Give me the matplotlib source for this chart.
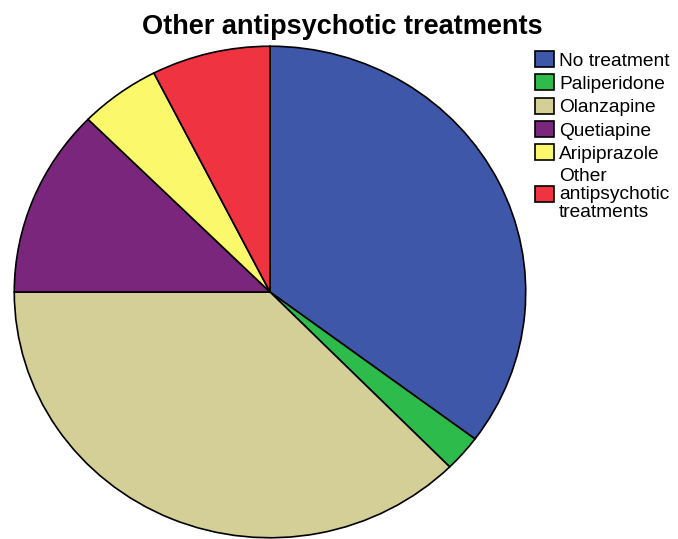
import matplotlib.pyplot as plt

# dane (procenty)
labels = ["No treatment", "Paliperidone", "Olanzapine", "Quetiapine",
          "Aripiprazole", "Other\nantipsychotic\ntreatments"]
shares = [35.2, 2.4, 37.4, 12.4, 5.1, 7.5]
colors = ["#3F57A8", "#2DBB4C", "#D4CF96", "#7B267D", "#FBF86B", "#EF3340"]

plt.rcParams['font.family'] = ['Liberation Sans', 'DejaVu Sans']

W, H = 678, 539
fig = plt.figure(figsize=(W / 100, H / 100), dpi=100)

# pie is slightly squashed in the original, so axes aspect stays auto
cx, cy, rx, ry = 270, 292, 257, 247
ax = fig.add_axes([(cx - rx) / W, 1 - (cy + ry) / H, 2 * rx / W, 2 * ry / H])
wedges, _ = ax.pie(shares, colors=colors, startangle=90, counterclock=False,
                   wedgeprops=dict(edgecolor="black", linewidth=1.2))
ax.set_aspect('auto')
ax.set_xlim(-1.005, 1.005)
ax.set_ylim(-1.005, 1.005)

fig.text(342 / W, 1 - 27 / H, "Other antipsychotic treatments",
         ha="center", va="center", fontsize=19.5, fontweight="bold")

leg = fig.legend(wedges, labels, loc="upper left",
                 bbox_to_anchor=(535 / W, 1 - 51 / H), frameon=False,
                 fontsize=13.8, handlelength=1.0, handleheight=0.9,
                 handletextpad=0.25, labelspacing=0.25, borderpad=0,
                 borderaxespad=0)
for t in leg.get_texts():
    t.set_linespacing(1.08)
for h in leg.legend_handles:
    h.set_linewidth(1.2)

plt.savefig("out.png", dpi=100)
